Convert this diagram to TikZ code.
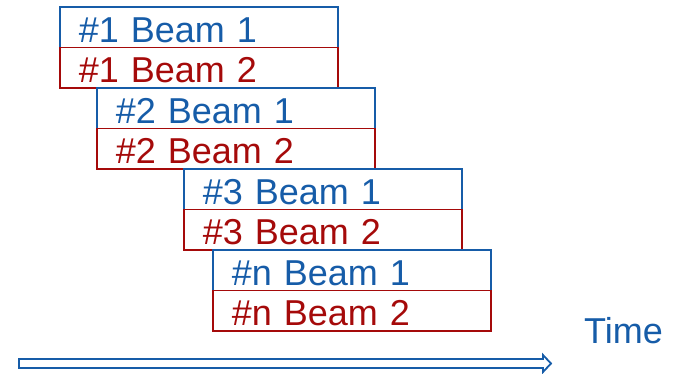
\documentclass[tikz,border=0pt]{standalone}
\usepackage{fontspec}
\setmainfont{Liberation Sans}
\setlength{\parindent}{0pt}
\definecolor{bblue}{RGB}{22,92,168}
\definecolor{bred}{RGB}{165,10,10}
\begin{document}
\begin{tikzpicture}[x=1pt,y=-1pt,
  beam/.style={draw,line width=1.8pt,anchor=north west,minimum width=278pt,minimum height=40.5pt,
    inner xsep=19pt,inner ysep=0pt,text width=240pt,align=left,
    font=\fontsize{36}{36}\selectfont,text height=30pt,text depth=0pt},
  b1/.style={beam,draw=bblue,text=bblue},
  b2/.style={beam,draw=bred,text=bred}]
\useasboundingbox (0,0) rectangle (673,373);
\node[b1] (a1) at (59,6)   {\#1 Beam 1};
\node[b2] (a2) at (59,46.5) {\#1 Beam 2};
\node[b1] (c1) at (96,87)  {\#2 Beam 1};
\node[b2] (c2) at (96,127.5) {\#2 Beam 2};
\node[b1] (d1) at (183,168) {\#3 Beam 1};
\node[b2] (d2) at (183,208.5) {\#3 Beam 2};
\node[b1] (n1) at (212,249) {\#n Beam 1};
\node[b2] (n2) at (212,289.5) {\#n Beam 2};
\node[text=bblue,font=\fontsize{36}{36}\selectfont,anchor=base west,inner sep=0pt] (time) at (584,343) {Time};
\draw[bblue,line width=1.8pt,fill=white,line join=miter]
  (19,359) -- (543,359) -- (543,355) -- (551,363.5) -- (543,372) -- (543,368) -- (19,368) -- cycle;
\end{tikzpicture}
\end{document}
